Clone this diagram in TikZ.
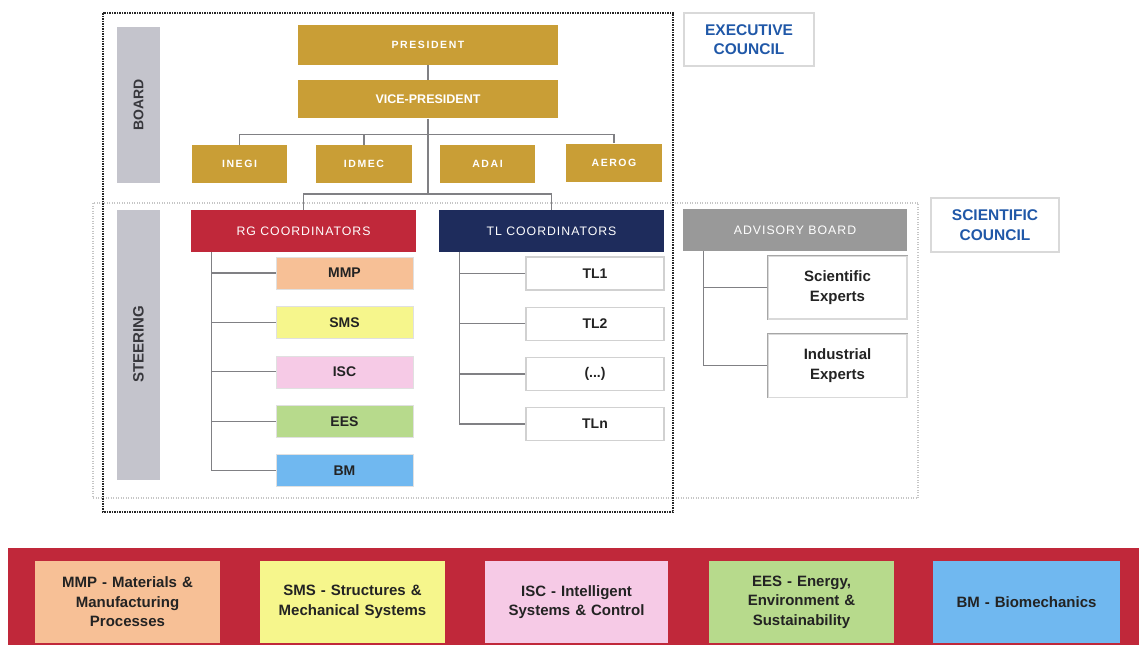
\documentclass[tikz,border=0pt]{standalone}
\usepackage{fontspec}
\setmainfont{Liberation Sans}
\newfontfamily\spacedfont[LetterSpace=8]{Liberation Sans}
\newfontfamily\widefont[LetterSpace=15]{Liberation Sans}
\usetikzlibrary{positioning}

\definecolor{boardgold}{RGB}{201,158,54}
\definecolor{bargray}{RGB}{196,196,204}
\definecolor{bartext}{RGB}{55,55,60}
\definecolor{rgred}{RGB}{192,40,58}
\definecolor{tlnavy}{RGB}{30,44,92}
\definecolor{advgray}{RGB}{153,153,153}
\definecolor{councilblue}{RGB}{32,88,168}
\definecolor{linkgray}{RGB}{128,128,132}
\definecolor{itemtext}{RGB}{35,35,35}
\definecolor{mmpcol}{RGB}{247,192,150}
\definecolor{smscol}{RGB}{246,246,140}
\definecolor{isccol}{RGB}{246,202,230}
\definecolor{eescol}{RGB}{183,218,140}
\definecolor{bmcol}{RGB}{112,184,240}

\begin{document}
\begin{tikzpicture}[x=1pt,y=-1pt,
    box/.style={rectangle,inner sep=0pt,align=center},
    gold/.style={box,fill=boardgold,text=white,minimum height=38pt},
    goldsmall/.style={gold,font=\widefont\fontsize{10.5}{11}\selectfont\bfseries},
    bar/.style={rectangle,fill=bargray,minimum width=43pt,inner sep=0pt},
    barlabel/.style={rotate=90,text=bartext,font=\fontsize{14}{14}\selectfont\bfseries},
    head/.style={box,minimum width=225pt,minimum height=42pt,text=white,font=\spacedfont\fontsize{12.3}{13}\selectfont},
    rgitem/.style={box,draw=black!12,minimum width=137pt,minimum height=32pt,text=itemtext,font=\fontsize{14}{14}\selectfont\bfseries},
    tlitem/.style={box,fill=white,draw=black!18,line width=1.2pt,minimum width=138pt,minimum height=33pt,text=itemtext,font=\fontsize{14}{14}\selectfont\bfseries},
    expert/.style={box,draw=black!15,line width=1.2pt,minimum width=139pt,minimum height=63pt,text=itemtext,font=\fontsize{15}{19.5}\selectfont\bfseries},
    council/.style={box,fill=white,draw=black!15,line width=1.5pt,text=councilblue,font=\fontsize{15.5}{19.5}\selectfont\bfseries},
    area/.style={box,minimum width=185pt,minimum height=82pt,text width=180pt,text=itemtext,font=\fontsize{15}{19.5}\selectfont\bfseries},
    link/.style={draw=linkgray,line width=1.3pt},
  ]
  \useasboundingbox (0,0) rectangle (1139,645);

  % frames
  \draw[gray!45,line width=1.2pt,dash pattern=on 1pt off 1.5pt] (93,203) rectangle (918,498);
  \draw[black!85,line width=1.8pt,dash pattern=on 1.5pt off 1pt] (103,13) rectangle (673,512);

  % board
  \node[bar,minimum height=156pt] (boardbar) at (138.5,105) {};
  \node[barlabel] at (boardbar) {BOARD};
  \node[goldsmall,minimum width=260pt,minimum height=40pt] (pres) at (428,45) {PRESIDENT};
  \node[gold,minimum width=260pt,below=15pt of pres,font=\fontsize{12.5}{13}\selectfont\bfseries] (vp) {VICE-PRESIDENT};
  \node[goldsmall,minimum width=95pt] (inegi) at (239.5,164) {INEGI};
  \node[goldsmall,minimum width=96pt] (idmec) at (364,164) {IDMEC};
  \node[goldsmall,minimum width=95pt] (adai) at (487.5,164) {ADAI};
  \node[goldsmall,minimum width=96pt] (aerog) at (614,162.5) {AEROG};

  \node[council,minimum width=130pt,minimum height=53pt] (exec) at (749,39.5) {EXECUTIVE\\COUNCIL};

  \draw[link] (pres.south) -- (vp.north);
  \draw[link] (inegi.north) -- ++(0,-10) coordinate (boardbus) -| (aerog.north);
  \draw[link] (idmec.north) -- (idmec.north |- boardbus);
  \draw[link] (vp.south) -- (vp.south |- 0,194) coordinate (steerbus);

  % steering
  \node[bar,minimum height=270pt] (steerbar) at (138.5,344.5) {};
  \node[barlabel,font=\fontsize{15}{15}\selectfont\bfseries] at (steerbar) {STEERING};

  \node[head,fill=rgred] (rg) at (303.5,231) {RG COORDINATORS};
  \node[head,fill=tlnavy] (tl) at (551.5,231) {TL COORDINATORS};
  \node[head,fill=advgray,minimum width=224pt] (adv) at (795,230) {ADVISORY BOARD};
  \draw[link] (rg.north) |- (steerbus) -| (tl.north);

  \node[rgitem,fill=mmpcol] (mmp) at (344.5,273) {MMP};
  \node[rgitem,fill=smscol,below=17pt of mmp] (sms) {SMS};
  \node[rgitem,fill=isccol,below=17pt of sms] (isc) {ISC};
  \node[rgitem,fill=eescol,below=17pt of isc] (ees) {EES};
  \node[rgitem,fill=bmcol,below=17pt of ees] (bm) {BM};
  \coordinate (rgspine) at ([xshift=21pt]rg.south west);
  \draw[link] (rgspine) |- (bm.west);
  \foreach \n in {mmp,sms,isc,ees}
    \draw[link] (\n.west) -- (\n.west -| rgspine);

  \node[tlitem] (tl1) at (595,273.5) {TL1};
  \node[tlitem,below=16pt of tl1] (tl2) {TL2};
  \node[tlitem,below=16pt of tl2] (tldots) {(...)};
  \node[tlitem,below=16pt of tldots] (tln) {TLn};
  \coordinate (tlspine) at ([xshift=21pt]tl.south west);
  \draw[link] (tlspine) |- (tln.west);
  \foreach \n in {tl1,tl2,tldots}
    \draw[link] (\n.west) -- (\n.west -| tlspine);

  \node[expert] (sciexp) at (837.5,287.5) {Scientific\\Experts};
  \node[expert,below=14pt of sciexp] (indexp) {Industrial\\Experts};
  \foreach \n in {sciexp,indexp}
    \draw[gray!70,line width=1.2pt] (\n.south west) |- (\n.north east);
  \coordinate (advspine) at ([xshift=21pt]adv.south west);
  \draw[link] (advspine) |- (indexp.west);
  \draw[link] (sciexp.west) -- (sciexp.west -| advspine);

  \node[council,minimum width=128pt,minimum height=54pt] (scicouncil) at (995,225) {SCIENTIFIC\\COUNCIL};

  % research groups band
  \fill[rgred] (8,548) rectangle (1139,645);
  \node[area,fill=mmpcol] (mmparea) at (127.5,602) {MMP - Materials \&\\Manufacturing\\Processes};
  \node[area,fill=smscol] (smsarea) at (352.5,602) {SMS - Structures \&\\Mechanical Systems};
  \node[area,fill=isccol,minimum width=183pt] (iscarea) at (576.5,602) {ISC - Intelligent\\Systems \& Control};
  \node[area,fill=eescol] (eesarea) at (801.5,602) {EES - Energy,\\Environment \&\\Sustainability};
  \node[area,fill=bmcol,minimum width=187pt] (bmarea) at (1026.5,602) {BM - Biomechanics};
\end{tikzpicture}
\end{document}
